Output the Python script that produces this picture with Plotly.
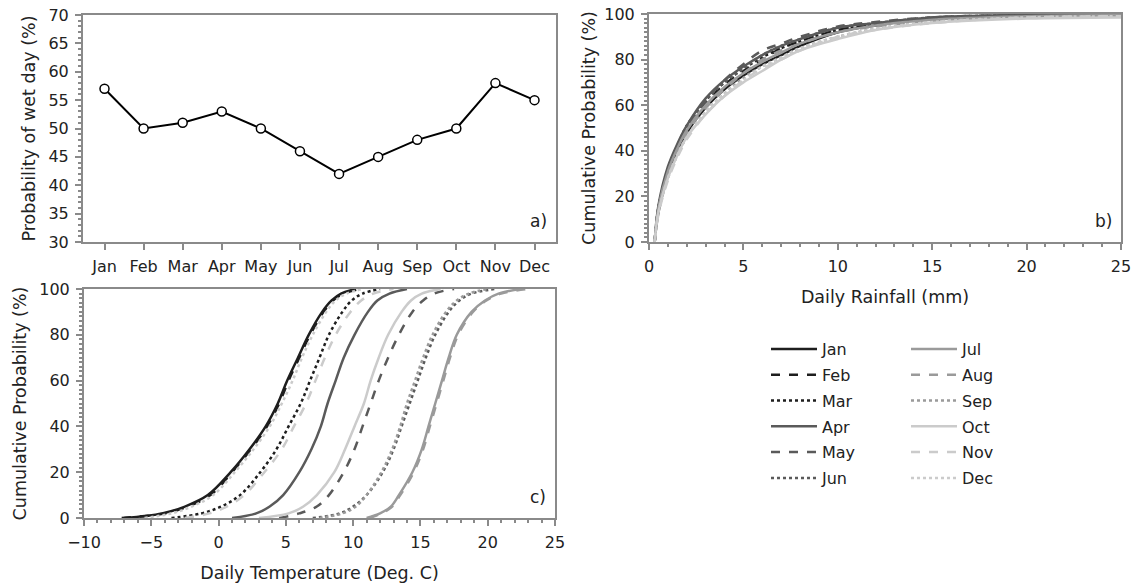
"""Wet-day probability, rainfall and temperature CDFs by month"""
import plotly.graph_objects as go

months = ['Jan', 'Feb', 'Mar', 'Apr', 'May', 'Jun',
          'Jul', 'Aug', 'Sep', 'Oct', 'Nov', 'Dec']

# a) probability of a wet day (%)
wet_day_prob = [57, 50, 51, 53, 50, 46, 42, 45, 48, 50, 58, 55]

# b) daily rainfall (mm) vs cumulative probability (%)
rain_mm = [0.3, 0.5, 1, 1.5, 2, 3, 4, 5, 6, 7, 8, 10, 12, 15, 20, 25]
rain_jan = [0, 13, 29, 40, 48, 59, 67, 73, 78, 82, 86, 92, 95, 98, 99.5, 100]
rain_feb = [0, 14, 30, 41, 50, 61, 69, 75, 80, 85, 88, 93, 95.5, 98, 99.5, 100]
rain_mar = [0, 15, 31, 42, 51, 62, 70, 76, 81, 85, 88, 93, 95.5, 98, 99.5, 100]
rain_apr = [0, 16, 33, 43, 51, 63, 71, 77, 82, 86, 89, 94, 96, 98.5, 99.5, 100]
rain_may = [0, 15, 32, 42, 50, 62, 71, 78, 84, 87, 90, 94.5, 96.5, 98.5, 99.6, 100]
rain_jun = [0, 15, 31, 41, 50, 62, 70, 76, 82, 86, 89, 94, 96, 98.5, 99.5, 100]
rain_jul = [0, 15, 31, 41, 49, 60, 68, 74, 79, 83, 87, 92, 95, 97.5, 99, 99.5]
rain_aug = [0, 14, 30, 40, 48, 59, 67, 74, 80, 84, 87, 92, 94.5, 97, 98.5, 99]
rain_sep = [0, 13, 28, 38, 46, 57, 65, 72, 77, 81, 85, 90, 93.5, 96.5, 98.5, 99]
rain_oct = [0, 13, 28, 38, 46, 56, 64, 70, 75, 80, 84, 89, 93, 96, 98, 98.5]
rain_nov = [0, 12, 27, 37, 45, 56, 64, 71, 76, 80, 84, 90, 93, 96, 98.5, 99]
rain_dec = [0, 13, 28, 38, 46, 57, 65, 71, 77, 81, 85, 90, 93.5, 96.5, 98.5, 99]

# c) daily temperature (deg C) at each cumulative probability level (%)
cum_prob = [0, 2, 5, 10, 20, 30, 40, 50, 60, 70, 80, 90, 95, 98, 100]
temp_jan = [-7.0, -4.2, -2.5, -0.8, 0.9, 2.3, 3.5, 4.4, 5.1, 5.9, 6.7, 7.7, 8.4, 9.1, 10.2]
temp_feb = [-7.2, -4.0, -2.3, -0.6, 1.0, 2.4, 3.6, 4.5, 5.2, 6.0, 6.8, 7.8, 8.5, 9.3, 10.5]
temp_mar = [-3.5, -1.3, 0.2, 1.6, 3.1, 4.3, 5.2, 6.1, 6.8, 7.5, 8.2, 9.2, 9.9, 10.7, 12.0]
temp_apr = [1.0, 2.8, 3.8, 4.8, 6.0, 6.9, 7.6, 8.1, 8.7, 9.3, 10.1, 11.1, 11.8, 12.7, 14.0]
temp_may = [4.5, 6.0, 7.3, 8.2, 9.3, 10.1, 10.7, 11.3, 11.9, 12.6, 13.4, 14.4, 15.2, 16.0, 17.5]
temp_jun = [7.0, 9.0, 10.0, 11.0, 12.2, 13.0, 13.6, 14.2, 14.8, 15.4, 16.1, 17.1, 17.9, 18.8, 20.5]
temp_jul = [11.0, 12.0, 12.8, 13.4, 14.4, 15.1, 15.6, 16.1, 16.6, 17.1, 17.7, 18.8, 19.8, 20.8, 22.5]
temp_aug = [11.2, 12.1, 12.9, 13.5, 14.5, 15.2, 15.7, 16.2, 16.7, 17.2, 17.8, 18.9, 19.9, 21.0, 23.0]
temp_sep = [7.5, 9.2, 10.2, 11.0, 12.1, 12.9, 13.5, 14.0, 14.6, 15.2, 15.9, 16.9, 17.7, 18.6, 20.0]
temp_oct = [3.0, 5.2, 6.3, 7.3, 8.6, 9.4, 10.1, 10.8, 11.3, 11.9, 12.6, 13.6, 14.3, 15.1, 16.5]
temp_nov = [-2.5, -0.7, 0.6, 1.9, 3.4, 4.7, 5.6, 6.5, 7.2, 7.9, 8.7, 9.8, 10.6, 11.5, 13.0]
temp_dec = [-5.5, -3.5, -2.0, -0.4, 1.2, 2.6, 3.8, 4.7, 5.5, 6.2, 7.0, 8.0, 8.7, 9.5, 10.8]

rain_cdfs = [rain_jan, rain_feb, rain_mar, rain_apr, rain_may, rain_jun,
             rain_jul, rain_aug, rain_sep, rain_oct, rain_nov, rain_dec]
temp_cdfs = [temp_jan, temp_feb, temp_mar, temp_apr, temp_may, temp_jun,
             temp_jul, temp_aug, temp_sep, temp_oct, temp_nov, temp_dec]

# grey shade per quarter, line style repeating solid / dashed / dotted
shades = ['#1e1e1e'] * 3 + ['#5a5a5a'] * 3 + ['#9a9a9a'] * 3 + ['#cbcbcb'] * 3
dashes = ['solid', 'dash', 'dot'] * 4

W, H = 1135, 587
FONT = dict(family='DejaVu Sans', size=16, color='#222222')
TITLE_FONT = dict(family='DejaVu Sans', size=17.5, color='#222222')
SPINE = '#8a8a8a'


def xdom(p0, p1):
    return [p0 / W, p1 / W]


def ydom(top, bottom):
    return [1 - bottom / H, 1 - top / H]


fig = go.Figure()

# a) wet-day probability
fig.add_trace(go.Scatter(
    x=months, y=wet_day_prob, mode='lines+markers',
    line=dict(color='black', width=2),
    marker=dict(symbol='circle', size=9, color='white',
                line=dict(color='black', width=1.5)),
    showlegend=False, xaxis='x', yaxis='y'))

# b) rainfall CDFs
for i, m in enumerate(months):
    fig.add_trace(go.Scatter(
        x=rain_mm, y=rain_cdfs[i], mode='lines', line_shape='spline',
        line=dict(color=shades[i], width=2.5, dash=dashes[i]),
        legendgroup=m, showlegend=False, xaxis='x2', yaxis='y2'))

# c) temperature CDFs (these carry the legend entries)
for i, m in enumerate(months):
    fig.add_trace(go.Scatter(
        x=temp_cdfs[i], y=cum_prob, mode='lines', line_shape='spline',
        line=dict(color=shades[i], width=2.5, dash=dashes[i]),
        name=m, legendgroup=m, legend='legend' if i < 6 else 'legend2',
        xaxis='x3', yaxis='y3'))

axis_common = dict(showline=True, mirror=True, linecolor=SPINE, linewidth=2,
                   ticks='outside', ticklen=6, tickwidth=1.5, tickcolor=SPINE,
                   showgrid=False, zeroline=False, tickfont=FONT,
                   automargin=False, ticklabelstandoff=3,
                   ticklabeloverflow='allow')
minor_y = dict(ticks='outside', ticklen=3, tickcolor=SPINE)

fig.update_layout(
    width=W, height=H,
    margin=dict(l=0, r=0, t=0, b=0),
    paper_bgcolor='white', plot_bgcolor='white',
    font=FONT,
    xaxis=dict(axis_common, domain=xdom(83, 556), anchor='y',
               range=[-0.55, 11.55], type='category'),
    yaxis=dict(axis_common, domain=ydom(15, 242), anchor='x',
               range=[30, 70], dtick=5, minor=dict(minor_y, dtick=1),
               title=dict(text='Probability of wet day (%)', font=TITLE_FONT, standoff=8)),
    xaxis2=dict(axis_common, domain=xdom(649, 1121), anchor='y2',
                range=[0, 25], dtick=5, minor=dict(minor_y, dtick=1),
                title=dict(text='Daily Rainfall (mm)', font=TITLE_FONT, standoff=16)),
    yaxis2=dict(axis_common, domain=ydom(14, 242), anchor='x2',
                range=[0, 100], dtick=20, minor=dict(minor_y, dtick=2),
                title=dict(text='Cumulative Probability (%)', font=TITLE_FONT, standoff=4)),
    xaxis3=dict(axis_common, domain=xdom(84, 555), anchor='y3',
                range=[-10, 25], dtick=5, minor=dict(minor_y, dtick=1),
                title=dict(text='Daily Temperature (Deg. C)', font=TITLE_FONT, standoff=16)),
    yaxis3=dict(axis_common, domain=ydom(289, 518), anchor='x3',
                range=[0, 100], dtick=20, minor=dict(minor_y, dtick=2),
                title=dict(text='Cumulative Probability (%)', font=TITLE_FONT, standoff=8)),
    legend=dict(x=766 / W, y=1 - 332 / H, xanchor='left', yanchor='top',
                font=FONT, bgcolor='rgba(0,0,0,0)', traceorder='grouped',
                tracegroupgap=2, itemwidth=46),
    legend2=dict(x=906 / W, y=1 - 332 / H, xanchor='left', yanchor='top',
                 font=FONT, bgcolor='rgba(0,0,0,0)', traceorder='grouped',
                 tracegroupgap=2, itemwidth=46),
)

# panel letters
for ax, lab in [('x', 'a)'), ('x2', 'b)'), ('x3', 'c)')]:
    yref = ax.replace('x', 'y') + ' domain'
    fig.add_annotation(text=lab, xref=ax + ' domain', yref=yref,
                       x=0.985, y=0.04, xanchor='right', yanchor='bottom',
                       showarrow=False, font=dict(FONT, size=17))

# let the figure fill the whole window instead of sitting inside the body margin
fig.write_html("out.html", config={'displayModeBar': False},
               post_script="document.body.style.margin = '0';")
